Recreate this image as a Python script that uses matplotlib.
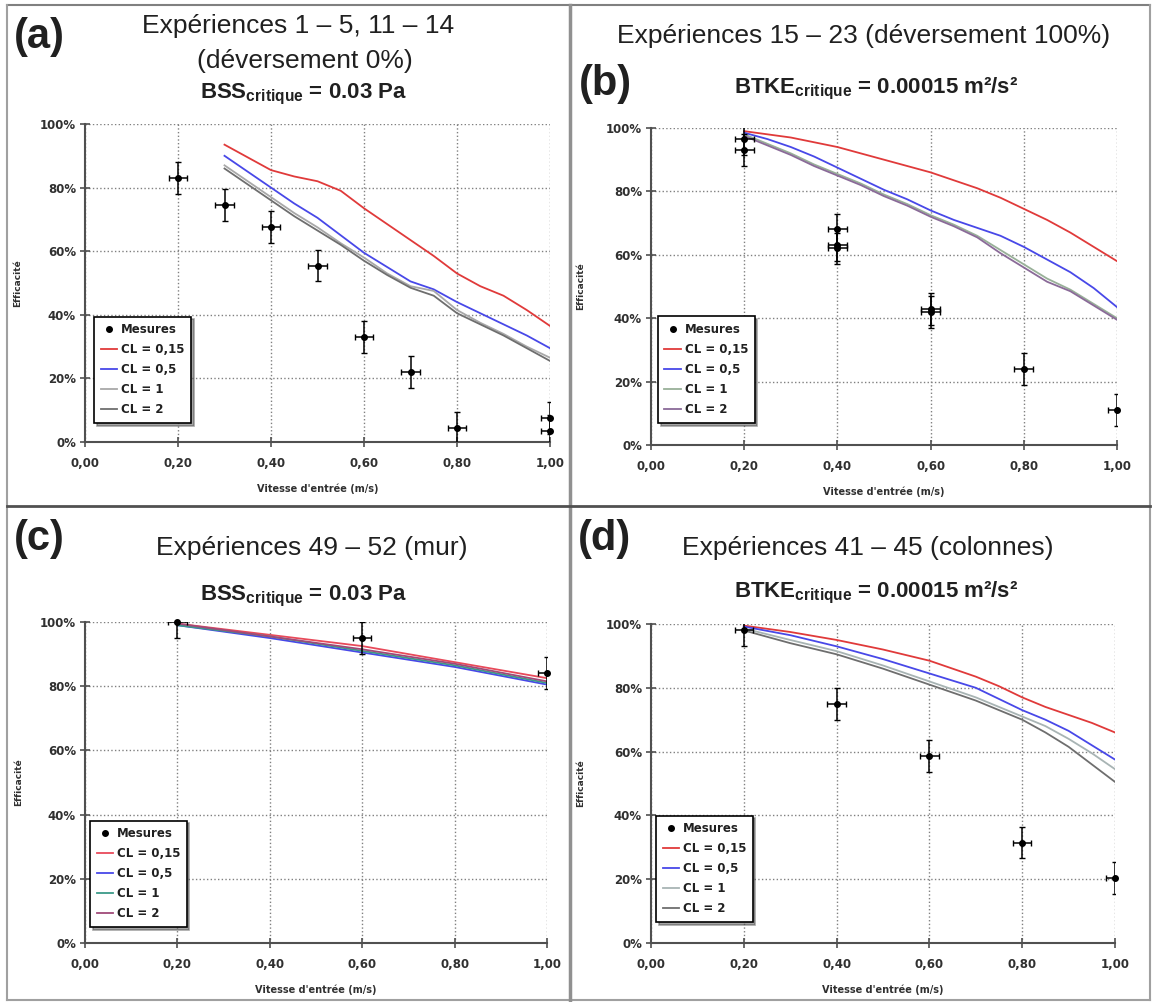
import matplotlib
matplotlib.use("Agg")
import matplotlib.pyplot as plt
from matplotlib.lines import Line2D

plt.rcParams['mathtext.fontset'] = 'custom'
plt.rcParams['mathtext.rm'] = 'Liberation Sans'
plt.rcParams['mathtext.bf'] = 'Liberation Sans:bold'

W, H = 1153, 1002

# axes, labels
x_ticks = [0.0, 0.2, 0.4, 0.6, 0.8, 1.0]
x_tick_labels = ['0,00', '0,20', '0,40', '0,60', '0,80', '1,00']
y_ticks = [0, 20, 40, 60, 80, 100]
y_tick_labels = ['0%', '20%', '40%', '60%', '80%', '100%']
series_labels = ['CL = 0,15', 'CL = 0,5', 'CL = 1', 'CL = 2']
xerr_size = 0.02
yerr_size = 5

# (a) Expériences 1-5, 11-14
a_mx = [0.2, 0.3, 0.4, 0.5, 0.6, 0.7, 0.8, 1.0, 1.0]
a_my = [83, 74.5, 67.5, 55.5, 33, 22, 4.5, 7.5, 3.5]
a_x = [0.3, 0.35, 0.4, 0.45, 0.5, 0.55, 0.6, 0.65, 0.7, 0.75, 0.8, 0.85, 0.9, 0.95, 1.0]
a_cl015 = [93.5, 89.5, 85.5, 83.5, 82, 79, 73.5, 68.5, 63.5, 58.5, 53, 49, 46, 41.5, 36.5]
a_cl05 = [90, 85, 80, 75, 70.5, 65, 59.5, 55, 50.5, 48, 44, 40.5, 37, 33.5, 29.5]
a_cl1 = [87, 82, 77, 72, 67.5, 62.5, 58, 53, 49, 47.5, 41.5, 37.5, 34, 30, 26.5]
a_cl2 = [86, 81, 76, 71, 66.5, 62, 57, 52.5, 48.5, 46, 40.5, 37, 33.5, 29.5, 25.5]

# (b) Expériences 15-23
b_mx = [0.2, 0.2, 0.4, 0.4, 0.4, 0.6, 0.6, 0.8, 1.0]
b_my = [93, 96.5, 68, 63, 62, 43, 42, 24, 11]
b_x = [0.2, 0.25, 0.3, 0.35, 0.4, 0.45, 0.5, 0.55, 0.6, 0.65, 0.7, 0.75, 0.8, 0.85, 0.9, 0.95, 1.0]
b_cl015 = [99, 98, 97, 95.5, 94, 92, 90, 88, 86, 83.5, 81, 78, 74.5, 71, 67, 62.5, 58]
b_cl05 = [98.5, 96.5, 94, 91, 87.5, 84, 80.5, 77.5, 74, 71, 68.5, 66, 62.5, 58.5, 54.5, 49.5, 43.5]
b_cl1 = [98, 95, 92, 88.5, 85.5, 82.5, 79, 76, 72.5, 69.5, 66, 61.5, 57, 52.5, 49, 44.5, 40]
b_cl2 = [97.5, 94.5, 91.5, 88, 85, 82, 78.5, 75.5, 72, 69, 65.5, 60.5, 56, 51.5, 48.5, 44, 39.5]

# (c) Expériences 49-52
c_mx = [0.2, 0.6, 1.0]
c_my = [100, 95, 84]
c_x = [0.2, 0.4, 0.6, 0.8, 1.0]
c_cl015 = [99.5, 96, 92.5, 87.5, 82.5]
c_cl05 = [99, 95, 90.5, 86, 80.5]
c_cl1 = [99, 95.5, 91, 86.5, 81]
c_cl2 = [99.5, 95.5, 91.5, 87, 81.5]

# (d) Expériences 41-45
d_mx = [0.2, 0.4, 0.6, 0.8, 1.0]
d_my = [98, 75, 58.5, 31.5, 20.5]
d_x = [0.2, 0.3, 0.4, 0.5, 0.6, 0.7, 0.75, 0.8, 0.85, 0.9, 0.95, 1.0]
d_cl015 = [99.5, 97.5, 95, 92, 88.5, 83.5, 80.5, 77, 74, 71.5, 69, 66]
d_cl05 = [99.2, 96.5, 93, 89, 84.5, 80, 76.5, 73, 70, 66.5, 62, 57.5]
d_cl1 = [98.6, 95, 91.5, 87, 82, 77, 74, 71, 68, 64, 59.5, 54.5]
d_cl2 = [98, 94, 90.5, 86, 81, 76, 73, 70, 66, 61.5, 56, 50.5]


def px_rect(l, t, r, b):
    return [l / W, 1 - b / H, (r - l) / W, (b - t) / H]


def draw_panel(ax, mx, my, lx, curves, colors, leg_anchor, ylab_x):
    ax.set_xlim(0, 1)
    ax.set_ylim(0, 100)
    ax.set_axisbelow(True)
    ax.grid(True, linestyle=':', color='#808080', lw=1)
    for s in ['top', 'right']:
        ax.spines[s].set_visible(False)
    for s in ['left', 'bottom']:
        ax.spines[s].set_color('#505050')
        ax.spines[s].set_linewidth(1.5)
    ax.set_xticks(x_ticks)
    ax.set_xticklabels(x_tick_labels)
    ax.set_yticks(y_ticks)
    ax.set_yticklabels(y_tick_labels)
    ax.tick_params(direction='inout', length=7, width=1.2, color='#505050',
                   labelsize=8.5, labelcolor='#303030')
    ax.tick_params(axis='x', pad=7)
    ax.tick_params(axis='y', pad=3)
    for lab in ax.get_xticklabels() + ax.get_yticklabels():
        lab.set_fontweight('bold')

    ax.errorbar(mx, my, xerr=xerr_size, yerr=yerr_size, fmt='none',
                ecolor='black', elinewidth=1.1, capsize=2, zorder=3)
    ax.plot(mx, my, 'o', color='black', ms=4, label='Mesures',
            clip_on=False, zorder=4)
    for ys, col, lab in zip(curves, colors, series_labels):
        ax.plot(lx, ys, color=col, lw=1.3, label=lab, zorder=2)

    leg = ax.legend(loc='lower left', bbox_to_anchor=leg_anchor,
                    borderaxespad=0, fancybox=False, shadow=True,
                    edgecolor='black', framealpha=1, handlelength=1.4,
                    handletextpad=0.3, labelspacing=0.6,
                    prop={'size': 8.5, 'weight': 'bold'}, borderpad=0.55)
    leg.get_frame().set_linewidth(1.2)
    for t in leg.get_texts():
        t.set_color('#202020')

    ax.set_xlabel("Vitesse d'entrée (m/s)", fontsize=7, fontweight='bold',
                  color='#303030')
    ax.xaxis.set_label_coords(0.5, -0.13)
    ax.set_ylabel('Efficacité', fontsize=6.5, fontweight='bold', color='#303030')
    ax.yaxis.set_label_coords(ylab_x, 0.5)


fig = plt.figure(figsize=(W / 100, H / 100), dpi=100)

ax_a = fig.add_axes(px_rect(85, 124, 550, 442))
ax_b = fig.add_axes(px_rect(651, 128, 1117, 445))
ax_c = fig.add_axes(px_rect(85, 622, 547, 943))
ax_d = fig.add_axes(px_rect(651, 624, 1115, 943))

draw_panel(ax_a, a_mx, a_my, a_x, [a_cl015, a_cl05, a_cl1, a_cl2],
           ['#e03a3a', '#4848e8', '#a8a8a8', '#6e6e6e'], (0.02, 0.06), -0.135)
draw_panel(ax_b, b_mx, b_my, b_x, [b_cl015, b_cl05, b_cl1, b_cl2],
           ['#e03a3a', '#4848e8', '#98b098', '#8a6a98'], (0.015, 0.07), -0.142)
draw_panel(ax_c, c_mx, c_my, c_x, [c_cl015, c_cl05, c_cl1, c_cl2],
           ['#e84a5a', '#4848e8', '#3a9a88', '#a04a78'], (0.011, 0.05), -0.135)
draw_panel(ax_d, d_mx, d_my, d_x, [d_cl015, d_cl05, d_cl1, d_cl2],
           ['#e03a3a', '#4848e8', '#a8b4b4', '#6e6e6e'], (0.011, 0.066), -0.142)


def ftext(x, y, s, size, weight='normal'):
    fig.text(x / W, 1 - y / H, s, fontsize=size, fontweight=weight,
             family='Liberation Sans', ha='center', va='baseline',
             color='#202020')


bss = r'BSS$_{\mathbf{critique}}$ = 0.03 Pa'
btke = r'BTKE$_{\mathbf{critique}}$ = 0.00015 m²/s²'

ftext(39, 48, '(a)', 30, 'bold')
ftext(298, 33, 'Expériences 1 – 5, 11 – 14', 19)
ftext(305, 68, '(déversement 0%)', 19)
ftext(303, 98, bss, 16, 'bold')

ftext(864, 43, 'Expériences 15 – 23 (déversement 100%)', 19)
ftext(605, 95, '(b)', 30, 'bold')
ftext(876, 93, btke, 16, 'bold')

ftext(39, 550, '(c)', 30, 'bold')
ftext(312, 555, 'Expériences 49 – 52 (mur)', 19)
ftext(303, 600, bss, 16, 'bold')

ftext(604, 550, '(d)', 30, 'bold')
ftext(868, 555, 'Expériences 41 – 45 (colonnes)', 19)
ftext(876, 597, btke, 16, 'bold')

# frame and dividers
def fline(x0, y0, x1, y1, color, lw):
    fig.add_artist(Line2D([x0 / W, x1 / W], [1 - y0 / H, 1 - y1 / H],
                          color=color, lw=lw, transform=fig.transFigure))

fline(7, 5, 1150, 5, '#808080', 1.5)
fline(7, 5, 7, 1000, '#a0a0a0', 1.5)
fline(1150, 5, 1150, 1000, '#a0a0a0', 1.5)
fline(7, 1000, 1150, 1000, '#a0a0a0', 1.5)
fline(570, 5, 570, 1000, '#909090', 2.5)
fline(7, 506, 1150, 506, '#505050', 2)

fig.savefig('out.png', dpi=100)
